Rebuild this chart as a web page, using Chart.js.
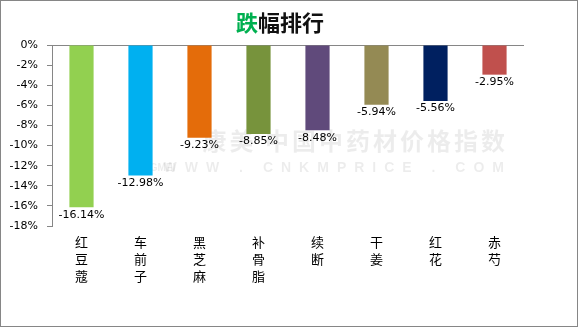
<!DOCTYPE html>
<html>
<head>
<meta charset="utf-8">
<script src="https://cdn.jsdelivr.net/npm/chart.js@4"></script>
<style>
  html, body { margin: 0; padding: 0; background: #fff; }
  #chart { display: block; }
</style>
</head>
<body>
<canvas id="chart" width="579" height="328"></canvas>
<script>
// herbs with the biggest price drops
const herbs = ['红豆蔻', '车前子', '黑芝麻', '补骨脂', '续断', '干姜', '红花', '赤芍']
const drops = [-16.14, -12.98, -9.23, -8.85, -8.48, -5.94, -5.56, -2.95]
const barColors = ['#92D050', '#00B0F0', '#E46C0A', '#77933C', '#604A7B', '#948A54', '#002060', '#C0504D']
const yTicks = [0, -2, -4, -6, -8, -10, -12, -14, -16, -18]

const AXIS = '#868686'
const FONT = '"DejaVu Sans", sans-serif'
const CJK = '"Noto Sans CJK SC", sans-serif'

// title with the first glyph in green
const titlePlugin = {
  id: 'title2',
  afterDraw(chart) {
    const ctx = chart.ctx
    ctx.save()
    ctx.font = `bold 22px ${CJK}`
    ctx.textBaseline = 'middle'
    const head = '跌', tail = '幅排行'
    const w = ctx.measureText(head + tail).width
    let x = 280 - w / 2
    ctx.fillStyle = '#00B050'
    ctx.fillText(head, x, 23)
    x += ctx.measureText(head).width
    ctx.fillStyle = '#111'
    ctx.fillText(tail, x, 23)
    ctx.restore()
  }
}

// faint site mark behind the bars
const markPlugin = {
  id: 'mark',
  beforeDatasetsDraw(chart) {
    const ctx = chart.ctx
    ctx.save()
    ctx.fillStyle = 'rgba(0,0,0,0.075)'
    ctx.textAlign = 'right'
    ctx.textBaseline = 'middle'
    ctx.font = `bold 24px ${CJK}`
    ctx.letterSpacing = '3px'
    ctx.fillText('康美 中国中药材价格指数', 508, 141)
    ctx.font = `bold 14px "Liberation Sans", sans-serif`
    ctx.letterSpacing = '8px'
    ctx.fillText('WWW . CNKMPRICE . COM', 512, 168)
    ctx.textAlign = 'left'
    ctx.letterSpacing = '0px'
    ctx.font = `bold 10px "Liberation Sans", sans-serif`
    ctx.fillText('KANGMEI', 128, 168)
    ctx.restore()
  }
}

// value labels under each bar end
const valuePlugin = {
  id: 'values',
  afterDatasetsDraw(chart) {
    const ctx = chart.ctx
    const meta = chart.getDatasetMeta(0)
    ctx.save()
    ctx.font = `11px ${FONT}`
    ctx.fillStyle = '#000'
    ctx.textAlign = 'center'
    ctx.textBaseline = 'top'
    meta.data.forEach((bar, i) => {
      ctx.fillText(drops[i].toFixed(2) + '%', bar.x, bar.y + 2)
    })
    ctx.restore()
  }
}

// outer frame
const framePlugin = {
  id: 'frame',
  afterDraw(chart) {
    const ctx = chart.ctx
    ctx.save()
    ctx.strokeStyle = AXIS
    ctx.lineWidth = 1
    ctx.strokeRect(0.5, 0.5, 577, 326)
    ctx.restore()
  }
}

new Chart(document.getElementById('chart'), {
  type: 'bar',
  data: {
    labels: herbs.map(h => h.split('')),
    datasets: [{
      data: drops,
      backgroundColor: barColors,
      barPercentage: 0.41,
      categoryPercentage: 1
    }]
  },
  options: {
    responsive: false,
    animation: false,
    devicePixelRatio: 1,
    layout: { padding: { top: 45, left: 0, right: 55, bottom: 22 } },
    plugins: { legend: { display: false }, tooltip: { enabled: false } },
    scales: {
      x: {
        grid: { display: false, drawTicks: false },
        border: { display: false },
        ticks: {
          padding: 8,
          color: '#000',
          maxRotation: 0,
          autoSkip: false,
          font: { family: CJK, size: 13, lineHeight: 1.3 }
        },
        afterFit(scale) { scale.height = 80 }
      },
      y: {
        min: -18,
        max: 0,
        afterBuildTicks(scale) { scale.ticks = yTicks.map(v => ({ value: v })) },
        grid: {
          color: c => (c.tick && c.tick.value === 0 ? AXIS : 'transparent'),
          tickColor: AXIS,
          tickLength: 5
        },
        border: { color: AXIS },
        ticks: {
          padding: 9,
          color: '#000',
          font: { family: FONT, size: 11 },
          callback: v => v + '%'
        },
        afterFit(scale) { scale.width = 52 }
      }
    }
  },
  plugins: [markPlugin, valuePlugin, titlePlugin, framePlugin]
})
</script>
</body>
</html>
